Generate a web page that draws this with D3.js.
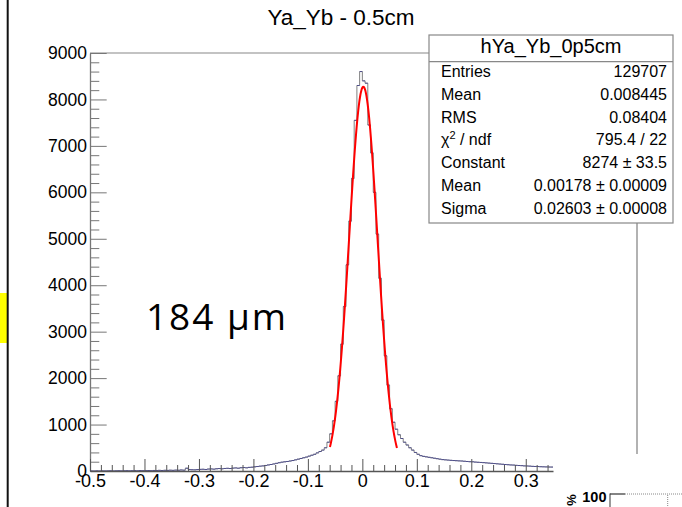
<!DOCTYPE html>
<html><head><meta charset="utf-8">
<script src="https://cdn.jsdelivr.net/npm/d3@7"></script>
<style>body{margin:0;background:#fff;}svg{display:block;}</style>
</head><body>
<svg id="c" width="682" height="507"></svg>
<script>
// ---------- data ----------
const binStart = -0.5, binWidth = 0.005;
const counts = [
  2,0,3,1,4,2,3,5,2,4,6,3,5,7,4,6,8,5,9,7,
  8,10,7,12,9,14,11,15,13,17,14,19,16,22,18,60,30,27,25,30,
  35,38,33,42,45,40,48,52,47,55,58,53,62,66,60,70,74,68,78,82,
  90,96,104,110,120,130,140,152,165,178,
  190,198,205,215,225,240,255,270,285,300,
  320,340,360,390,420,450,
  500,620,800,1080,1500,2050,2730,3540,4440,5380,6300,7550,8300,8600,
  8400,8350,7450,6850,6000,5100,4150,3250,2480,1850,1340,1050,900,780,700,620,560,500,450,400,
  360,330,315,305,295,285,275,265,255,245,
  240,235,230,225,222,218,215,210,205,200,
  198,192,188,185,180,175,170,165,160,155,
  150,145,140,135,130,128,122,118,115,110,
  108,105,100,98,95,92,90,88,86,85
];
const fitParams = [8274, 0.00178, 0.02603]; // Constant, Mean, Sigma
const fitRange = [-0.0595, 0.064];
const xMajorTicks = [-0.5,-0.4,-0.3,-0.2,-0.1,0,0.1,0.2,0.3];
const xTickLabels = ["-0.5","-0.4","-0.3","-0.2","-0.1","0","0.1","0.2","0.3"];
const yMajorTicks = [0,1000,2000,3000,4000,5000,6000,7000,8000,9000];
const title = "Ya_Yb - 0.5cm";
const statTitle = "hYa_Yb_0p5cm";
const statLabels = ["Entries","Mean","RMS","CHI","Constant","Mean","Sigma"];
const statValues = ["129707","0.008445","0.08404","795.4 / 22","8274 \u00b1 33.5","0.00178 \u00b1 0.00009","0.02603 \u00b1 0.00008"];
const annotation = "184 \u00b5m";

// ---------- drawing ----------
const svg = d3.select("#c");
const font = "'Liberation Sans', Arial, Helvetica, sans-serif";
const x = d3.scaleLinear().domain([-0.5, 0.35]).range([90, 553]);
const y = d3.scaleLinear().domain([0, 9000]).range([471, 53]);

// left slide elements
svg.append("rect").attr("x",0).attr("y",293).attr("width",7).attr("height",50).attr("fill","#ffff00");
svg.append("line").attr("x1",7.7).attr("x2",7.7).attr("y1",0).attr("y2",507).attr("stroke","#111").attr("stroke-width",2);

// title
svg.append("text").attr("x",341).attr("y",25).attr("text-anchor","middle")
  .style("font-family",font).style("font-size","22.5px").text(title);

// frame pieces
svg.append("line").attr("x1",90).attr("x2",429).attr("y1",53).attr("y2",53).attr("stroke","#888").attr("stroke-width",1.2);
svg.append("line").attr("x1",637).attr("x2",637).attr("y1",223).attr("y2",454).attr("stroke","#999").attr("stroke-width",1.5);

// y axis
const yMinor = d3.range(0, 9001, 200).filter(v => v % 1000 !== 0);
svg.append("g").attr("transform","translate(90,0)")
  .call(d3.axisLeft(y).tickValues(yMinor).tickSize(-9.3).tickFormat(""))
  .call(g => { g.select(".domain").remove(); g.selectAll("line").attr("stroke","#777"); });
const gy = svg.append("g").attr("transform","translate(90,0)")
  .call(d3.axisLeft(y).tickValues(yMajorTicks).tickSize(-16.7).tickSizeOuter(0).tickPadding(3).tickFormat(d => String(d)));
gy.select(".domain").attr("stroke","#777").attr("stroke-width",1.3);
gy.selectAll("line").attr("stroke","#777");
gy.selectAll("text").style("font-family",font).style("font-size","17.5px").attr("fill","#000");

// histogram
const pts = [[x(binStart), y(0)]];
counts.forEach((c,i) => {
  const x0 = binStart + i*binWidth, x1 = x0 + binWidth;
  pts.push([x(x0), y(c)], [x(x1), y(c)]);
});
svg.append("path").attr("d", d3.line()(pts)).attr("fill","none").attr("stroke","#808080").attr("stroke-width",1);
const hs = svg.append("g");
counts.forEach((c,i) => {
  const x0 = binStart + i*binWidth;
  hs.append("line").attr("x1",x(x0)).attr("x2",x(x0+binWidth)).attr("y1",y(c)).attr("y2",y(c))
    .attr("stroke","#2a2a8f").attr("stroke-width",0.8).attr("opacity",0.75);
});

// fit curve
const fitX = d3.range(fitRange[0], fitRange[1] + 1e-9, 0.001);
const gauss = v => fitParams[0]*Math.exp(-0.5*Math.pow((v-fitParams[1])/fitParams[2],2));
svg.append("path").attr("d", d3.line().x(d=>x(d)).y(d=>y(gauss(d)))(fitX))
  .attr("fill","none").attr("stroke","#ff0000").attr("stroke-width",2);

// x axis
const xMinor = d3.range(-0.5, 0.3501, 0.02).map(v => +v.toFixed(3)).filter(v => Math.abs(Math.round(v*10) - v*10) > 1e-6);
svg.append("g").attr("transform","translate(0,471)")
  .call(d3.axisBottom(x).tickValues(xMinor).tickSize(-6).tickFormat(""))
  .call(g => { g.select(".domain").remove(); g.selectAll("line").attr("stroke","#555"); });
const gx = svg.append("g").attr("transform","translate(0,471)")
  .call(d3.axisBottom(x).tickValues(xMajorTicks).tickSize(-12).tickSizeOuter(0).tickPadding(3)
    .tickFormat((d,i) => xTickLabels[i]));
gx.select(".domain").attr("stroke","#555").attr("stroke-width",1.3);
gx.selectAll("line").attr("stroke","#555");
gx.selectAll("text").style("font-family",font).style("font-size","18px").attr("fill","#000");

// annotation
svg.append("text").attr("x",146).attr("y",329.5)
  .style("font-family","'Open Sans', Lato, sans-serif").style("font-size","37px")
  .attr("textLength",140).attr("lengthAdjust","spacing").text(annotation);

// stats box
const bx = 429, by = 35, bw = 244, bh = 188;
svg.append("rect").attr("x",bx).attr("y",by).attr("width",bw).attr("height",bh)
  .attr("fill","#fff").attr("stroke","#888").attr("stroke-width",1.2);
svg.append("line").attr("x1",bx).attr("x2",bx+bw).attr("y1",61.7).attr("y2",61.7).attr("stroke","#888").attr("stroke-width",1.2);
svg.append("text").attr("x",bx+bw/2).attr("y",52.5).attr("text-anchor","middle")
  .style("font-family",font).style("font-size","20px").text(statTitle);
statLabels.forEach((lab,i) => {
  const yy = 77 + i*22.8;
  const t = svg.append("text").attr("x",441).attr("y",yy).style("font-family",font).style("font-size","16px");
  if (lab === "CHI") {
    t.append("tspan").text("\u03c7");
    t.append("tspan").attr("dy",-6).style("font-size","11px").text("2");
    t.append("tspan").attr("dy",6).text(" / ndf");
  } else t.text(lab);
  svg.append("text").attr("x",667).attr("y",yy).attr("text-anchor","end")
    .style("font-family",font).style("font-size","16px").text(statValues[i]);
});

// bottom-right fragment
svg.append("text").attr("transform","translate(572,500) rotate(90)").attr("text-anchor","middle")
  .attr("dy","0.35em").style("font-family",font).style("font-size","13px").style("font-weight","bold").text("%");
svg.append("text").attr("x",606.5).attr("y",501.5).attr("text-anchor","end")
  .style("font-family",font).style("font-size","14.5px").style("font-weight","bold").text("100");
svg.append("line").attr("x1",610).attr("x2",610).attr("y1",493.5).attr("y2",507).attr("stroke","#555").attr("stroke-width",1.2);
svg.append("line").attr("x1",610).attr("x2",625).attr("y1",494).attr("y2",494).attr("stroke","#333").attr("stroke-width",1.2);
svg.append("line").attr("x1",625).attr("x2",682).attr("y1",494).attr("y2",494).attr("stroke","#888").attr("stroke-dasharray","1,1");
svg.append("line").attr("x1",667.7).attr("x2",667.7).attr("y1",495).attr("y2",507).attr("stroke","#888").attr("stroke-dasharray","1,1");
</script>
</body></html>
